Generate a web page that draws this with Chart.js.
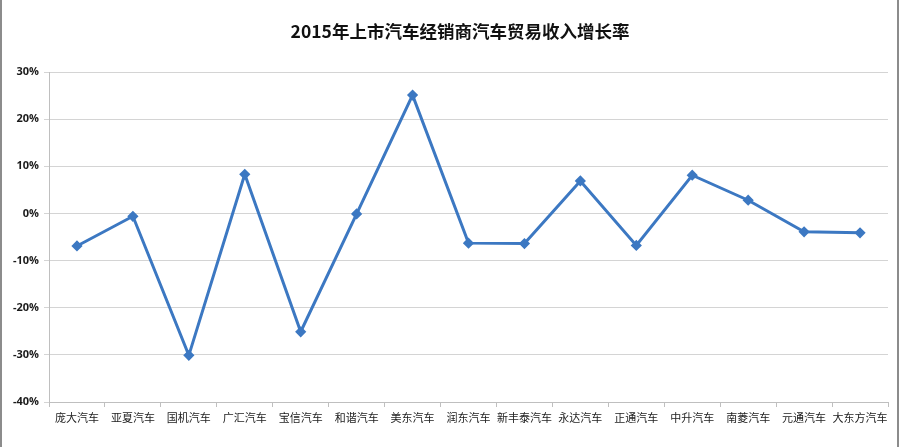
<!DOCTYPE html>
<html>
<head>
<meta charset="utf-8">
<script src="https://cdn.jsdelivr.net/npm/chart.js@4/dist/chart.umd.min.js"></script>
<style>
html,body{margin:0;padding:0;background:#fff;}
#wrap{width:900px;height:447px;position:relative;}
</style>
</head>
<body>
<div id="wrap"><canvas id="c" width="900" height="447"></canvas></div>
<script>
const categories = ["庞大汽车","亚夏汽车","国机汽车","广汇汽车","宝信汽车","和谐汽车","美东汽车","润东汽车","新丰泰汽车","永达汽车","正通汽车","中升汽车","南菱汽车","元通汽车","大东方汽车"];
const growthRate = [-6.9, -0.6, -30.1, 8.3, -25.1, -0.1, 25.1, -6.3, -6.4, 6.9, -6.8, 8.1, 2.8, -3.9, -4.1];
const yTicks = [30, 20, 10, 0, -10, -20, -30, -40];
const titleText = "2015年上市汽车经销商汽车贸易收入增长率";

const borderPlugin = {
  id: 'outerBorder',
  afterLayout(chart) {
    const t = chart.titleBlock;
    if (t) { t.left += 16; t.right += 16; }
  },
  beforeDraw(chart) {
    const ctx = chart.ctx;
    ctx.save();
    ctx.fillStyle = '#fff';
    ctx.fillRect(0, 0, chart.width, chart.height);
    ctx.strokeStyle = '#8c8c8c';
    ctx.lineWidth = 2;
    ctx.beginPath();
    ctx.moveTo(1, 0); ctx.lineTo(1, chart.height);
    ctx.moveTo(898, 0); ctx.lineTo(898, chart.height);
    ctx.stroke();
    ctx.restore();
  }
};

new Chart(document.getElementById('c'), {
  type: 'line',
  data: {
    labels: categories,
    datasets: [{
      data: growthRate,
      borderColor: '#3c78c2',
      backgroundColor: '#3c78c2',
      borderWidth: 3,
      pointStyle: 'rectRot',
      pointRadius: 3.5,
      pointHoverRadius: 3.5,
      tension: 0,
      fill: false
    }]
  },
  options: {
    responsive: false,
    animation: false,
    layout: { padding: { left: 0, right: 12, top: 0, bottom: 0 } },
    plugins: {
      legend: { display: false },
      tooltip: { enabled: false },
      title: {
        display: true,
        text: titleText,
        color: '#111',
        font: { family: '"Noto Sans CJK SC", "Open Sans", sans-serif', size: 17.5, weight: 'bold', lineHeight: 1.2 },
        padding: { top: 21, bottom: 30 }
      }
    },
    scales: {
      x: {
        offset: true,
        grid: { display: true, drawOnChartArea: false, drawTicks: true, tickLength: 5, offset: true, color: '#bfbfbf' },
        border: { display: true, color: '#bfbfbf' },
        ticks: {
          autoSkip: false, maxRotation: 0, minRotation: 0, padding: 4,
          color: '#222',
          font: { family: '"Noto Sans CJK SC", sans-serif', size: 11 }
        },
        afterFit(scale) { scale.height = 45; }
      },
      y: {
        min: -40, max: 30,
        afterBuildTicks(scale) { scale.ticks = yTicks.map(v => ({ value: v })); },
        grid: { color: '#d4d4d4', tickLength: 5, drawTicks: true },
        border: { display: true, color: '#bfbfbf' },
        ticks: {
          padding: 5,
          color: '#1a1a1a',
          font: { family: '"Open Sans", "Liberation Sans", sans-serif', size: 11, weight: 'bold' },
          callback: v => v + '%'
        },
        afterFit(scale) { scale.width = 49; }
      }
    }
  },
  plugins: [borderPlugin]
});
</script>
</body>
</html>
